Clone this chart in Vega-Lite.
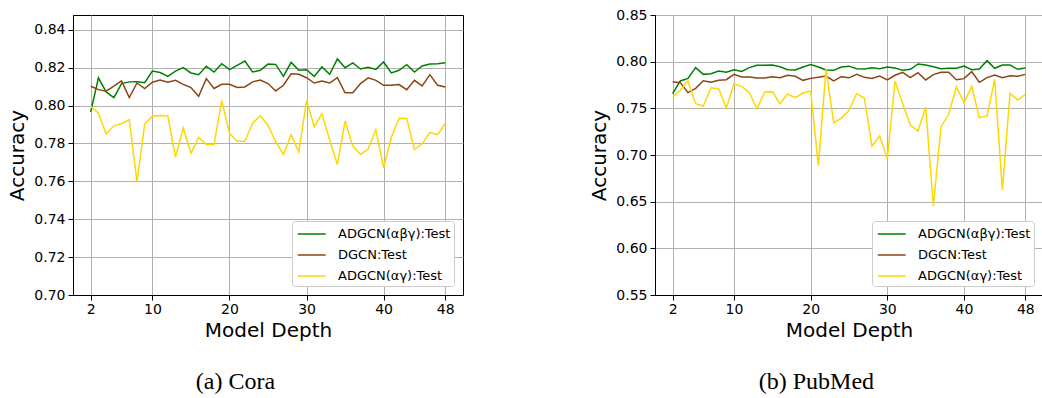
{
  "$schema": "https://vega.github.io/schema/vega-lite/v6.json",
  "background": "white",
  "padding": {"left": 7, "top": 7, "right": 0, "bottom": 0},
  "config": {
    "font": "DejaVu Sans",
    "view": {"stroke": "black", "strokeWidth": 1},
    "axis": {
      "labelFont": "DejaVu Sans", "labelFontSize": 14, "labelColor": "black",
      "titleFont": "DejaVu Sans", "titleFontSize": 20, "titleFontWeight": "normal", "titleColor": "black",
      "gridColor": "#b0b0b0", "gridWidth": 1, "domainColor": "black", "tickColor": "black",
      "tickSize": 5, "labelPadding": 3
    },
    "axisX": {"titlePadding": 4, "labelPadding": 2},
    "axisY": {"titlePadding": 6},
    "legend": {
      "orient": "bottom-right", "offset": 9, "fillColor": "white", "strokeColor": "#cccccc",
      "cornerRadius": 3, "padding": 3, "symbolType": "M-0.8,0H2.3", "symbolStrokeWidth": 1.5,
      "symbolSize": 324, "labelFont": "DejaVu Sans", "labelFontSize": 13, "labelColor": "black",
      "rowPadding": 4, "labelOffset": 23, "labelLimit": 300
    },
    "title": {
      "font": "Liberation Serif", "fontSize": 24, "fontWeight": "normal", "color": "black",
      "orient": "bottom", "anchor": "middle", "frame": "bounds", "offset": 30
    }
  },
  "datasets": {
    "cora": [
      {"depth": 2, "ADGCN(αβγ):Test": 0.7967, "DGCN:Test": 0.8102, "ADGCN(αγ):Test": 0.7996},
      {"depth": 3, "ADGCN(αβγ):Test": 0.8146, "DGCN:Test": 0.8084, "ADGCN(αγ):Test": 0.7960},
      {"depth": 4, "ADGCN(αβγ):Test": 0.8072, "DGCN:Test": 0.8076, "ADGCN(αγ):Test": 0.7851},
      {"depth": 5, "ADGCN(αβγ):Test": 0.8042, "DGCN:Test": 0.8102, "ADGCN(αγ):Test": 0.7893},
      {"depth": 6, "ADGCN(αβγ):Test": 0.8116, "DGCN:Test": 0.8130, "ADGCN(αγ):Test": 0.7904},
      {"depth": 7, "ADGCN(αβγ):Test": 0.8125, "DGCN:Test": 0.8042, "ADGCN(αγ):Test": 0.7926},
      {"depth": 8, "ADGCN(αβγ):Test": 0.8126, "DGCN:Test": 0.8119, "ADGCN(αγ):Test": 0.7596},
      {"depth": 9, "ADGCN(αβγ):Test": 0.8121, "DGCN:Test": 0.8090, "ADGCN(αγ):Test": 0.7904},
      {"depth": 10, "ADGCN(αβγ):Test": 0.8182, "DGCN:Test": 0.8123, "ADGCN(αγ):Test": 0.7944},
      {"depth": 11, "ADGCN(αβγ):Test": 0.8174, "DGCN:Test": 0.8135, "ADGCN(αγ):Test": 0.7947},
      {"depth": 12, "ADGCN(αβγ):Test": 0.8154, "DGCN:Test": 0.8123, "ADGCN(αγ):Test": 0.7946},
      {"depth": 13, "ADGCN(αβγ):Test": 0.8182, "DGCN:Test": 0.8133, "ADGCN(αγ):Test": 0.7728},
      {"depth": 14, "ADGCN(αβγ):Test": 0.8200, "DGCN:Test": 0.8112, "ADGCN(αγ):Test": 0.7882},
      {"depth": 15, "ADGCN(αβγ):Test": 0.8172, "DGCN:Test": 0.8095, "ADGCN(αγ):Test": 0.7749},
      {"depth": 16, "ADGCN(αβγ):Test": 0.8163, "DGCN:Test": 0.8049, "ADGCN(αγ):Test": 0.7832},
      {"depth": 17, "ADGCN(αβγ):Test": 0.8207, "DGCN:Test": 0.8142, "ADGCN(αγ):Test": 0.7795},
      {"depth": 18, "ADGCN(αβγ):Test": 0.8177, "DGCN:Test": 0.8090, "ADGCN(αγ):Test": 0.7795},
      {"depth": 19, "ADGCN(αβγ):Test": 0.8221, "DGCN:Test": 0.8112, "ADGCN(αγ):Test": 0.8026},
      {"depth": 20, "ADGCN(αβγ):Test": 0.8190, "DGCN:Test": 0.8112, "ADGCN(αγ):Test": 0.7854},
      {"depth": 21, "ADGCN(αβγ):Test": 0.8212, "DGCN:Test": 0.8095, "ADGCN(αγ):Test": 0.7812},
      {"depth": 22, "ADGCN(αβγ):Test": 0.8235, "DGCN:Test": 0.8098, "ADGCN(αγ):Test": 0.7812},
      {"depth": 23, "ADGCN(αβγ):Test": 0.8177, "DGCN:Test": 0.8125, "ADGCN(αγ):Test": 0.7907},
      {"depth": 24, "ADGCN(αβγ):Test": 0.8186, "DGCN:Test": 0.8135, "ADGCN(αγ):Test": 0.7946},
      {"depth": 25, "ADGCN(αβγ):Test": 0.8219, "DGCN:Test": 0.8116, "ADGCN(αγ):Test": 0.7895},
      {"depth": 26, "ADGCN(αβγ):Test": 0.8217, "DGCN:Test": 0.8077, "ADGCN(αγ):Test": 0.7810},
      {"depth": 27, "ADGCN(αβγ):Test": 0.8154, "DGCN:Test": 0.8107, "ADGCN(αγ):Test": 0.7742},
      {"depth": 28, "ADGCN(αβγ):Test": 0.8228, "DGCN:Test": 0.8168, "ADGCN(αγ):Test": 0.7846},
      {"depth": 29, "ADGCN(αβγ):Test": 0.8186, "DGCN:Test": 0.8165, "ADGCN(αγ):Test": 0.7754},
      {"depth": 30, "ADGCN(αβγ):Test": 0.8189, "DGCN:Test": 0.8147, "ADGCN(αγ):Test": 0.8026},
      {"depth": 31, "ADGCN(αβγ):Test": 0.8154, "DGCN:Test": 0.8119, "ADGCN(αγ):Test": 0.7889},
      {"depth": 32, "ADGCN(αβγ):Test": 0.8204, "DGCN:Test": 0.8130, "ADGCN(αγ):Test": 0.7956},
      {"depth": 33, "ADGCN(αβγ):Test": 0.8165, "DGCN:Test": 0.8119, "ADGCN(αγ):Test": 0.7819},
      {"depth": 34, "ADGCN(αβγ):Test": 0.8246, "DGCN:Test": 0.8147, "ADGCN(αγ):Test": 0.7689},
      {"depth": 35, "ADGCN(αβγ):Test": 0.8200, "DGCN:Test": 0.8067, "ADGCN(αγ):Test": 0.7918},
      {"depth": 36, "ADGCN(αβγ):Test": 0.8225, "DGCN:Test": 0.8068, "ADGCN(αγ):Test": 0.7786},
      {"depth": 37, "ADGCN(αβγ):Test": 0.8193, "DGCN:Test": 0.8116, "ADGCN(αγ):Test": 0.7742},
      {"depth": 38, "ADGCN(αβγ):Test": 0.8202, "DGCN:Test": 0.8146, "ADGCN(αγ):Test": 0.7770},
      {"depth": 39, "ADGCN(αβγ):Test": 0.8191, "DGCN:Test": 0.8133, "ADGCN(αγ):Test": 0.7872},
      {"depth": 40, "ADGCN(αβγ):Test": 0.8230, "DGCN:Test": 0.8107, "ADGCN(αγ):Test": 0.7672},
      {"depth": 41, "ADGCN(αβγ):Test": 0.8172, "DGCN:Test": 0.8107, "ADGCN(αγ):Test": 0.7833},
      {"depth": 42, "ADGCN(αβγ):Test": 0.8186, "DGCN:Test": 0.8111, "ADGCN(αγ):Test": 0.7933},
      {"depth": 43, "ADGCN(αβγ):Test": 0.8216, "DGCN:Test": 0.8084, "ADGCN(αγ):Test": 0.7932},
      {"depth": 44, "ADGCN(αβγ):Test": 0.8177, "DGCN:Test": 0.8133, "ADGCN(αγ):Test": 0.7768},
      {"depth": 45, "ADGCN(αβγ):Test": 0.8209, "DGCN:Test": 0.8104, "ADGCN(αγ):Test": 0.7798},
      {"depth": 46, "ADGCN(αβγ):Test": 0.8219, "DGCN:Test": 0.8163, "ADGCN(αγ):Test": 0.7858},
      {"depth": 47, "ADGCN(αβγ):Test": 0.8221, "DGCN:Test": 0.8107, "ADGCN(αγ):Test": 0.7846},
      {"depth": 48, "ADGCN(αβγ):Test": 0.8226, "DGCN:Test": 0.8098, "ADGCN(αγ):Test": 0.7904}
    ],
    "pubmed": [
      {"depth": 2, "ADGCN(αβγ):Test": 0.7657, "DGCN:Test": 0.7786, "ADGCN(αγ):Test": 0.7621},
      {"depth": 3, "ADGCN(αβγ):Test": 0.7793, "DGCN:Test": 0.7775, "ADGCN(αγ):Test": 0.7693},
      {"depth": 4, "ADGCN(αβγ):Test": 0.7821, "DGCN:Test": 0.7668, "ADGCN(αγ):Test": 0.7793},
      {"depth": 5, "ADGCN(αβγ):Test": 0.7936, "DGCN:Test": 0.7714, "ADGCN(αγ):Test": 0.7550},
      {"depth": 6, "ADGCN(αβγ):Test": 0.7864, "DGCN:Test": 0.7796, "ADGCN(αγ):Test": 0.7525},
      {"depth": 7, "ADGCN(αβγ):Test": 0.7871, "DGCN:Test": 0.7779, "ADGCN(αγ):Test": 0.7721},
      {"depth": 8, "ADGCN(αβγ):Test": 0.7900, "DGCN:Test": 0.7800, "ADGCN(αγ):Test": 0.7711},
      {"depth": 9, "ADGCN(αβγ):Test": 0.7886, "DGCN:Test": 0.7807, "ADGCN(αγ):Test": 0.7500},
      {"depth": 10, "ADGCN(αβγ):Test": 0.7914, "DGCN:Test": 0.7864, "ADGCN(αγ):Test": 0.7764},
      {"depth": 11, "ADGCN(αβγ):Test": 0.7896, "DGCN:Test": 0.7836, "ADGCN(αγ):Test": 0.7736},
      {"depth": 12, "ADGCN(αβγ):Test": 0.7936, "DGCN:Test": 0.7836, "ADGCN(αγ):Test": 0.7668},
      {"depth": 13, "ADGCN(αβγ):Test": 0.7961, "DGCN:Test": 0.7825, "ADGCN(αγ):Test": 0.7496},
      {"depth": 14, "ADGCN(αβγ):Test": 0.7961, "DGCN:Test": 0.7825, "ADGCN(αγ):Test": 0.7675},
      {"depth": 15, "ADGCN(αβγ):Test": 0.7964, "DGCN:Test": 0.7839, "ADGCN(αγ):Test": 0.7679},
      {"depth": 16, "ADGCN(αβγ):Test": 0.7946, "DGCN:Test": 0.7829, "ADGCN(αγ):Test": 0.7550},
      {"depth": 17, "ADGCN(αβγ):Test": 0.7914, "DGCN:Test": 0.7854, "ADGCN(αγ):Test": 0.7654},
      {"depth": 18, "ADGCN(αβγ):Test": 0.7911, "DGCN:Test": 0.7843, "ADGCN(αγ):Test": 0.7614},
      {"depth": 19, "ADGCN(αβγ):Test": 0.7943, "DGCN:Test": 0.7800, "ADGCN(αγ):Test": 0.7664},
      {"depth": 20, "ADGCN(αβγ):Test": 0.7968, "DGCN:Test": 0.7821, "ADGCN(αγ):Test": 0.7686},
      {"depth": 21, "ADGCN(αβγ):Test": 0.7943, "DGCN:Test": 0.7832, "ADGCN(αγ):Test": 0.6889},
      {"depth": 22, "ADGCN(αβγ):Test": 0.7911, "DGCN:Test": 0.7846, "ADGCN(αγ):Test": 0.7918},
      {"depth": 23, "ADGCN(αβγ):Test": 0.7907, "DGCN:Test": 0.7793, "ADGCN(αγ):Test": 0.7346},
      {"depth": 24, "ADGCN(αβγ):Test": 0.7943, "DGCN:Test": 0.7839, "ADGCN(αγ):Test": 0.7396},
      {"depth": 25, "ADGCN(αβγ):Test": 0.7952, "DGCN:Test": 0.7827, "ADGCN(αγ):Test": 0.7476},
      {"depth": 26, "ADGCN(αβγ):Test": 0.7925, "DGCN:Test": 0.7864, "ADGCN(αγ):Test": 0.7657},
      {"depth": 27, "ADGCN(αβγ):Test": 0.7921, "DGCN:Test": 0.7832, "ADGCN(αγ):Test": 0.7611},
      {"depth": 28, "ADGCN(αβγ):Test": 0.7936, "DGCN:Test": 0.7821, "ADGCN(αγ):Test": 0.7096},
      {"depth": 29, "ADGCN(αβγ):Test": 0.7925, "DGCN:Test": 0.7846, "ADGCN(αγ):Test": 0.7204},
      {"depth": 30, "ADGCN(αβγ):Test": 0.7943, "DGCN:Test": 0.7804, "ADGCN(αγ):Test": 0.6961},
      {"depth": 31, "ADGCN(αβγ):Test": 0.7932, "DGCN:Test": 0.7854, "ADGCN(αγ):Test": 0.7793},
      {"depth": 32, "ADGCN(αβγ):Test": 0.7907, "DGCN:Test": 0.7886, "ADGCN(αγ):Test": 0.7550},
      {"depth": 33, "ADGCN(αβγ):Test": 0.7918, "DGCN:Test": 0.7829, "ADGCN(αγ):Test": 0.7321},
      {"depth": 34, "ADGCN(αβγ):Test": 0.7975, "DGCN:Test": 0.7882, "ADGCN(αγ):Test": 0.7257},
      {"depth": 35, "ADGCN(αβγ):Test": 0.7964, "DGCN:Test": 0.7804, "ADGCN(αγ):Test": 0.7514},
      {"depth": 36, "ADGCN(αβγ):Test": 0.7946, "DGCN:Test": 0.7861, "ADGCN(αγ):Test": 0.6454},
      {"depth": 37, "ADGCN(αβγ):Test": 0.7925, "DGCN:Test": 0.7886, "ADGCN(αγ):Test": 0.7304},
      {"depth": 38, "ADGCN(αβγ):Test": 0.7929, "DGCN:Test": 0.7886, "ADGCN(αγ):Test": 0.7436},
      {"depth": 39, "ADGCN(αβγ):Test": 0.7929, "DGCN:Test": 0.7807, "ADGCN(αγ):Test": 0.7729},
      {"depth": 40, "ADGCN(αβγ):Test": 0.7954, "DGCN:Test": 0.7818, "ADGCN(αγ):Test": 0.7561},
      {"depth": 41, "ADGCN(αβγ):Test": 0.7914, "DGCN:Test": 0.7893, "ADGCN(αγ):Test": 0.7736},
      {"depth": 42, "ADGCN(αβγ):Test": 0.7921, "DGCN:Test": 0.7779, "ADGCN(αγ):Test": 0.7400},
      {"depth": 43, "ADGCN(αβγ):Test": 0.8011, "DGCN:Test": 0.7829, "ADGCN(αγ):Test": 0.7418},
      {"depth": 44, "ADGCN(αβγ):Test": 0.7929, "DGCN:Test": 0.7857, "ADGCN(αγ):Test": 0.7811},
      {"depth": 45, "ADGCN(αβγ):Test": 0.7964, "DGCN:Test": 0.7829, "ADGCN(αγ):Test": 0.6625},
      {"depth": 46, "ADGCN(αβγ):Test": 0.7964, "DGCN:Test": 0.7850, "ADGCN(αγ):Test": 0.7661},
      {"depth": 47, "ADGCN(αβγ):Test": 0.7918, "DGCN:Test": 0.7843, "ADGCN(αγ):Test": 0.7589},
      {"depth": 48, "ADGCN(αβγ):Test": 0.7932, "DGCN:Test": 0.7864, "ADGCN(αγ):Test": 0.7650}
    ]
  },
  "bounds": "flush",
  "spacing": 192,
  "resolve": {
    "scale": {"x": "independent", "y": "independent", "color": "independent"},
    "legend": {"color": "independent"}
  },
  "hconcat": [
    {
      "title": "(a) Cora",
      "width": 390,
      "height": 280,
      "data": {"name": "cora"},
      "transform": [{"fold": ["ADGCN(αβγ):Test", "DGCN:Test", "ADGCN(αγ):Test"], "as": ["model", "acc"]}],
      "mark": {"type": "line", "strokeWidth": 1.5, "clip": true},
      "encoding": {
        "x": {
          "field": "depth", "type": "quantitative",
          "scale": {"domain": [-0.3, 50.3], "nice": false, "zero": false},
          "axis": {"values": [2, 10, 20, 30, 40, 48], "title": "Model Depth"}
        },
        "y": {
          "field": "acc", "type": "quantitative",
          "scale": {"domain": [0.70, 0.8478], "nice": false, "zero": false},
          "axis": {"values": [0.70, 0.72, 0.74, 0.76, 0.78, 0.80, 0.82, 0.84], "format": ".2f", "title": "Accuracy"}
        },
        "color": {
          "field": "model", "type": "nominal",
          "scale": {"domain": ["ADGCN(αβγ):Test", "DGCN:Test", "ADGCN(αγ):Test"], "range": ["#008000", "#8b4513", "#ffd700"]},
          "legend": {"title": null}
        }
      }
    },
    {
      "title": "(b) PubMed",
      "width": 388,
      "height": 280,
      "data": {"name": "pubmed"},
      "transform": [{"fold": ["ADGCN(αβγ):Test", "DGCN:Test", "ADGCN(αγ):Test"], "as": ["model", "acc"]}],
      "mark": {"type": "line", "strokeWidth": 1.5, "clip": true},
      "encoding": {
        "x": {
          "field": "depth", "type": "quantitative",
          "scale": {"domain": [-0.3, 50.3], "nice": false, "zero": false},
          "axis": {"values": [2, 10, 20, 30, 40, 48], "title": "Model Depth"}
        },
        "y": {
          "field": "acc", "type": "quantitative",
          "scale": {"domain": [0.55, 0.85], "nice": false, "zero": false},
          "axis": {"values": [0.55, 0.60, 0.65, 0.70, 0.75, 0.80, 0.85], "format": ".2f", "title": "Accuracy"}
        },
        "color": {
          "field": "model", "type": "nominal",
          "scale": {"domain": ["ADGCN(αβγ):Test", "DGCN:Test", "ADGCN(αγ):Test"], "range": ["#008000", "#8b4513", "#ffd700"]},
          "legend": {"title": null}
        }
      }
    }
  ]
}
